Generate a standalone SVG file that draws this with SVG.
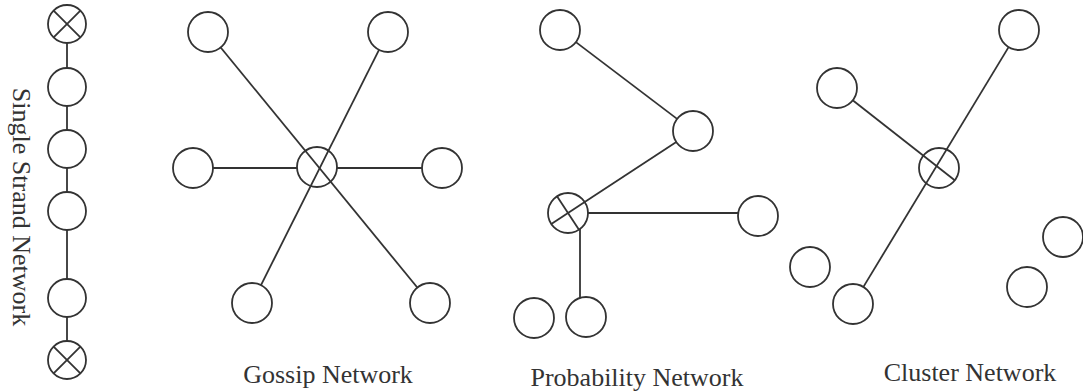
<svg xmlns="http://www.w3.org/2000/svg" width="1083" height="391" viewBox="0 0 1083 391">
<style>
.n{fill:#fff;stroke:#333;stroke-width:1.8}
.c line,.x line{stroke:#333;stroke-width:1.8;fill:none}
.t{font-family:"Liberation Serif",serif;font-size:26px;fill:#333;text-anchor:middle}
</style>
<rect width="1083" height="391" fill="#fff"/>
<!-- Single strand -->
<g id="strand-connectors" class="c">
<line x1="67" y1="43" x2="67" y2="68"/>
<line x1="67" y1="106" x2="67" y2="130"/>
<line x1="67" y1="168" x2="67" y2="192"/>
<line x1="67" y1="230" x2="67" y2="279"/>
<line x1="67" y1="317" x2="67" y2="341"/>
</g>
<g id="s1" class="x"><circle class="n" cx="67" cy="24" r="19"/><line x1="53.6" y1="10.6" x2="80.4" y2="37.4"/><line x1="80.4" y1="10.6" x2="53.6" y2="37.4"/></g>
<g id="s2"><circle class="n" cx="67" cy="87" r="19"/></g>
<g id="s3"><circle class="n" cx="67" cy="149" r="19"/></g>
<g id="s4"><circle class="n" cx="67" cy="211" r="19"/></g>
<g id="s5"><circle class="n" cx="67" cy="298" r="19"/></g>
<g id="s6" class="x"><circle class="n" cx="67" cy="360" r="19"/><line x1="53.6" y1="346.6" x2="80.4" y2="373.4"/><line x1="80.4" y1="346.6" x2="53.6" y2="373.4"/></g>
<text class="t" transform="translate(13,207) rotate(90)">Single Strand Network</text>

<!-- Gossip -->
<g id="g-center"><circle class="n" cx="317" cy="167" r="20"/></g>
<g id="g-tl"><circle class="n" cx="208" cy="32" r="20"/></g>
<g id="g-tr"><circle class="n" cx="388" cy="32" r="20"/></g>
<g id="g-l"><circle class="n" cx="193" cy="168" r="20"/></g>
<g id="g-r"><circle class="n" cx="442" cy="168" r="20"/></g>
<g id="g-bl"><circle class="n" cx="252" cy="303" r="20"/></g>
<g id="g-br"><circle class="n" cx="430" cy="303" r="20"/></g>
<text class="t" x="328" y="383">Gossip Network</text>

<!-- Probability -->
<g id="p-top"><circle class="n" cx="560" cy="30" r="20"/></g>
<g id="p-mid"><circle class="n" cx="693" cy="131" r="20"/></g>
<g id="p-x" class="x"><circle class="n" cx="568" cy="213" r="20"/><line x1="584.7" y1="202" x2="551.3" y2="224"/><line x1="557" y1="196.3" x2="579" y2="229.7"/></g>
<g id="p-r"><circle class="n" cx="758" cy="216" r="20"/></g>
<g id="p-b1"><circle class="n" cx="534" cy="318" r="20"/></g>
<g id="p-b2"><circle class="n" cx="586" cy="317" r="20"/></g>
<text class="t" x="637" y="386">Probability Network</text>

<!-- Cluster -->
<g id="c-tr"><circle class="n" cx="1019" cy="30" r="20"/></g>
<g id="c-l"><circle class="n" cx="837" cy="88" r="20"/></g>
<g id="c-x"><circle class="n" cx="939" cy="168" r="20"/></g>
<g id="c-bl1"><circle class="n" cx="810" cy="267" r="20"/></g>
<g id="c-bl2"><circle class="n" cx="853" cy="304" r="20"/></g>
<g id="c-r1"><circle class="n" cx="1063" cy="237" r="20"/></g>
<g id="c-r2"><circle class="n" cx="1027" cy="287" r="20"/></g>
<text class="t" x="970" y="381">Cluster Network</text>

<g id="connectors" class="c">
<line x1="220.7" y1="47.5" x2="417.3" y2="287.5"/>
<line x1="379" y1="49.9" x2="261" y2="285.1"/>
<line x1="213" y1="168" x2="297" y2="168"/>
<line x1="337" y1="168" x2="422" y2="168"/>
<line x1="575.9" y1="42.1" x2="677.1" y2="118.9"/>
<line x1="676.3" y1="142" x2="584.7" y2="202"/>
<line x1="588" y1="213" x2="738.2" y2="213"/>
<line x1="580" y1="229" x2="580" y2="298"/>
<line x1="1008.6" y1="47.1" x2="863.4" y2="286.9"/>
<line x1="852.7" y1="100.3" x2="954.7" y2="180.3"/>
</g>
</svg>
